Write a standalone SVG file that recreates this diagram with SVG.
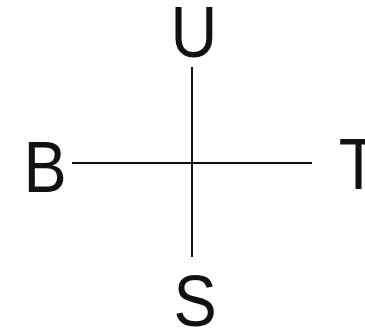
<svg xmlns="http://www.w3.org/2000/svg" width="365" height="335" viewBox="0 0 365 335">
<style>
.lbl{font-family:"Liberation Sans",Arial,sans-serif;font-size:72px;fill:#111;text-anchor:middle}
.ln{stroke:#111;stroke-width:2;fill:none}
</style>
<rect width="365" height="335" fill="#fff"/>
<g id="connectors">
<line class="ln" x1="192" y1="67" x2="192" y2="257"/>
<line class="ln" x1="72" y1="163" x2="312" y2="163"/>
</g>
<g id="U"><text class="lbl" transform="translate(194,57) scale(0.9,1)">U</text></g>
<g id="B"><text class="lbl" transform="translate(45,192) scale(0.9,1)">B</text></g>
<g id="T"><text class="lbl" transform="translate(358.5,189) scale(0.9,1)">T</text></g>
<g id="S"><text class="lbl" transform="translate(195,326) scale(0.9,1)">S</text></g>
</svg>
